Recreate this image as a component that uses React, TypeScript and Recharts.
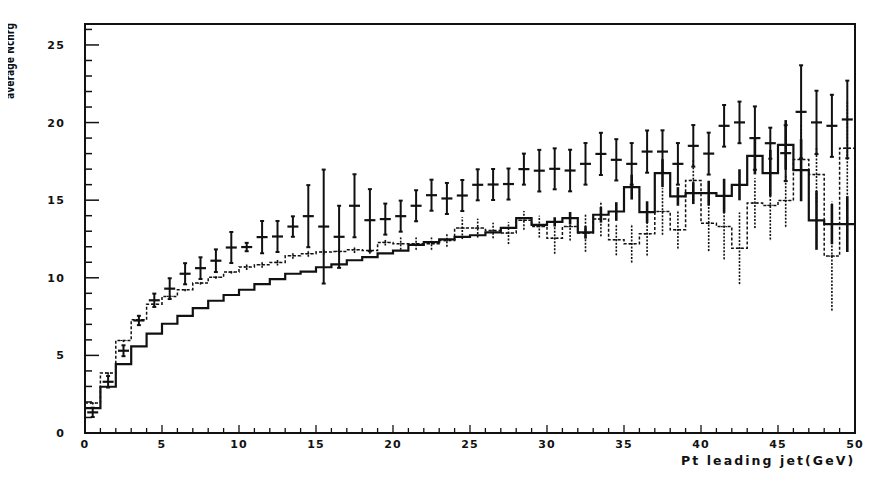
import React from "react";
import {
  ComposedChart,
  Line,
  Scatter,
  ErrorBar,
  XAxis,
  YAxis,
  ReferenceArea,
} from "recharts";

// 50 bins of 1 GeV in Pt of the leading jet
const binEdges = [
  0, 1, 2, 3, 4, 5, 6, 7, 8, 9, 10, 11, 12, 13, 14, 15, 16, 17, 18, 19, 20,
  21, 22, 23, 24, 25, 26, 27, 28, 29, 30, 31, 32, 33, 34, 35, 36, 37, 38, 39,
  40, 41, 42, 43, 44, 45, 46, 47, 48, 49, 50,
];

// measured points (crosses)
const dataMean = [
  1.33, 3.3, 5.3, 7.25, 8.55, 9.3, 10.26, 10.62, 11.1, 11.95,
  11.98, 12.62, 12.66, 13.3, 13.97, 13.3, 12.64, 14.64, 13.71, 13.78,
  13.97, 14.64, 15.32, 15.11, 15.3, 15.99, 16.01, 16.04, 17.0, 16.9,
  17.02, 16.91, 17.34, 17.98, 17.6, 17.34, 18.13, 18.13, 17.34, 18.5,
  18.0, 19.79, 20.01, 19.0, 18.67, 18.03, 20.69, 20.01, 19.79, 20.2,
];
const dataErr = [
  0.3, 0.37, 0.35, 0.3, 0.43, 0.67, 0.68, 0.7, 0.73, 1.0,
  0.27, 1.04, 1.0, 0.66, 2.0, 3.67, 2.0, 2.03, 2.0, 1.0,
  1.0, 1.0, 1.0, 1.0, 1.0, 1.0, 1.0, 1.0, 1.0, 1.34,
  1.32, 1.34, 1.34, 1.36, 1.33, 1.34, 1.36, 1.37, 1.34, 1.34,
  1.35, 1.34, 1.34, 2.04, 1.0, 1.8, 3.0, 2.04, 2.0, 2.5,
];

// solid histogram
const mcSolid = [
  1.6, 2.98, 4.44, 5.58, 6.4, 7.04, 7.55, 8.05, 8.52, 8.89,
  9.23, 9.59, 9.91, 10.26, 10.4, 10.68, 10.87, 11.13, 11.33, 11.57,
  11.75, 12.12, 12.3, 12.47, 12.64, 12.74, 12.93, 13.22, 13.84, 13.41,
  13.6, 13.84, 12.92, 14.06, 14.27, 15.84, 14.23, 16.74, 15.24, 15.45,
  15.45, 15.28, 15.99, 17.86, 16.74, 18.56, 16.93, 13.7, 13.46, 13.46,
];
const mcSolidErr = [
  0, 0, 0, 0, 0, 0, 0, 0, 0, 0,
  0, 0, 0, 0, 0, 0, 0, 0, 0, 0,
  0, 0, 0, 0, 0, 0, 0, 0, 0, 0,
  0.3, 0.4, 0.4, 0.5, 0.6, 0.8, 0.7, 0.9, 0.6, 0.7,
  0.8, 1.1, 1.0, 1.2, 1.5, 1.6, 2.0, 1.9, 1.3, 1.8,
];

// dashed histogram
const mcDashed = [
  1.93, 3.86, 5.96, 7.3, 8.3, 8.8, 9.23, 9.66, 10.04, 10.37,
  10.7, 10.84, 10.99, 11.42, 11.55, 11.66, 11.7, 11.8, 11.75, 12.28,
  12.2, 12.2, 12.2, 12.4, 13.2, 13.2, 13.04, 12.88, 13.7, 13.3,
  12.55, 13.3, 12.88, 13.78, 12.45, 12.19, 12.83, 14.27, 13.09, 16.27,
  13.52, 13.3, 11.9, 14.81, 14.66, 14.98, 17.62, 16.65, 11.4, 18.35,
];
const mcDashedErr = [
  0.1, 0.1, 0.1, 0.1, 0.1, 0.1, 0.1, 0.1, 0.1, 0.1,
  0.2, 0.2, 0.2, 0.2, 0.2, 0.2, 0.2, 0.2, 0.2, 0.2,
  0.4, 0.4, 0.4, 0.4, 0.7, 0.6, 0.5, 0.7, 0.6, 0.7,
  1.0, 0.9, 1.2, 1.1, 1.0, 1.2, 1.4, 1.5, 1.2, 1.3,
  1.8, 2.1, 2.3, 1.6, 2.2, 1.7, 2.2, 1.8, 3.5, 3.0,
];

const xTicks = binEdges;
const yTicks = [
  0, 1, 2, 3, 4, 5, 6, 7, 8, 9, 10, 11, 12, 13, 14, 15, 16, 17, 18, 19, 20,
  21, 22, 23, 24, 25, 26,
];
const Y_MAX = 26.35;

const histRows = binEdges.map((e) => ({
  x: e,
  solid: mcSolid[Math.min(e, 49)],
  dashed: mcDashed[Math.min(e, 49)],
}));

const pointRows = dataMean.map((v, i) => ({
  x: binEdges[i] + 0.5,
  y: v,
  err: dataErr[i],
  solid: mcSolid[i],
  solidErr: mcSolidErr[i],
  dashed: mcDashed[i],
  dashedErr: mcDashedErr[i],
}));

const INK = "#111";
const FONT = "'DejaVu Sans', Arial, sans-serif";

const YTick = (props: any) => {
  const { x, y, payload } = props;
  const major = payload.value % 5 === 0;
  return (
    <g>
      <line x1={x} y1={y} x2={x + (major ? 14 : 7)} y2={y} stroke={INK} strokeWidth={1.5} />
      {major && (
        <text
          x={x - 20}
          y={y}
          dy={4}
          textAnchor="end"
          fontFamily={FONT}
          fontWeight="bold"
          fontSize={11}
          letterSpacing={1.2}
          fill={INK}
        >
          {payload.value}
        </text>
      )}
    </g>
  );
};

const XTick = (props: any) => {
  const { x, y, payload } = props;
  const major = payload.value % 5 === 0;
  return (
    <g>
      <line x1={x} y1={y} x2={x} y2={y - (major ? 8 : 5)} stroke={INK} strokeWidth={1.3} />
      {major && (
        <text
          x={x}
          y={y + 15}
          textAnchor="middle"
          fontFamily={FONT}
          fontWeight="bold"
          fontSize={11}
          letterSpacing={1.2}
          fill={INK}
        >
          {payload.value}
        </text>
      )}
    </g>
  );
};

const crossShape = (props: any) => (
  <line x1={props.cx - 5.5} y1={props.cy} x2={props.cx + 5.5} y2={props.cy} stroke={INK} strokeWidth={2.2} />
);

const dashTick = (props: any) => (
  <line
    x1={props.cx - 3}
    y1={props.cy}
    x2={props.cx + 3}
    y2={props.cy}
    stroke={INK}
    strokeWidth={1.2}
    strokeDasharray="1.5 1"
  />
);

const noShape = () => <g />;

export default function App() {
  return (
    <div style={{ marginLeft: -8, marginTop: -8, width: 871, height: 474 }}>
      <ComposedChart
        width={871}
        height={474}
        margin={{ top: 24, right: 16, bottom: 11, left: 0 }}
      >
        <XAxis
          type="number"
          dataKey="x"
          domain={[0, 50]}
          ticks={xTicks}
          interval={0}
          allowDataOverflow
          axisLine={false}
          tickLine={false}
          tickSize={0}
          tickMargin={0}
          height={30}
          tick={<XTick />}
          label={{
            content: (p: any) => (
              <text
                x={p.viewBox.x + p.viewBox.width}
                y={p.viewBox.y + 32}
                textAnchor="end"
                fontFamily={FONT}
                fontWeight="bold"
                fontSize={12.5}
                letterSpacing={1.8}
                textLength={174}
                lengthAdjust="spacing"
                fill={INK}
              >
                Pt leading jet(GeV)
              </text>
            ),
          }}
        />
        <YAxis
          type="number"
          domain={[0, Y_MAX]}
          ticks={yTicks}
          interval={0}
          allowDataOverflow
          axisLine={false}
          tickLine={false}
          tickSize={0}
          tickMargin={0}
          width={85}
          tick={<YTick />}
          label={{
            content: () => (
              <text
                x={14}
                y={61}
                transform="rotate(-90 14 61)"
                textAnchor="middle"
                fontFamily="'Liberation Sans Narrow', 'DejaVu Sans', sans-serif"
                fontStretch="condensed"
                fontWeight="bold"
                fontSize={12.5}
                textLength={76}
                lengthAdjust="spacingAndGlyphs"
                fill={INK}
              >
                average Nchrg
              </text>
            ),
          }}
        />
        <ReferenceArea
          x1={0}
          x2={50}
          y1={0}
          y2={Y_MAX}
          fill="none"
          fillOpacity={0}
          stroke={INK}
          strokeWidth={2}
        />
        <Scatter data={pointRows} dataKey="dashed" shape={dashTick} isAnimationActive={false}>
          <ErrorBar
            dataKey="dashedErr"
            direction="y"
            width={0}
            stroke={INK}
            strokeWidth={1.6}
            strokeDasharray="2 1.5"
          />
        </Scatter>
        <Line
          data={histRows}
          dataKey="dashed"
          type="stepAfter"
          stroke={INK}
          strokeWidth={1.5}
          strokeDasharray="3 2"
          dot={false}
          activeDot={false}
          isAnimationActive={false}
        />
        <Line
          data={histRows}
          dataKey="solid"
          type="stepAfter"
          stroke={INK}
          strokeWidth={2.2}
          dot={false}
          activeDot={false}
          isAnimationActive={false}
        />
        <Scatter data={pointRows} dataKey="solid" shape={noShape} isAnimationActive={false}>
          <ErrorBar dataKey="solidErr" direction="y" width={0} stroke={INK} strokeWidth={2.6} />
        </Scatter>
        <Scatter data={pointRows} dataKey="y" shape={crossShape} isAnimationActive={false}>
          <ErrorBar dataKey="err" direction="y" width={2} stroke={INK} strokeWidth={2} />
        </Scatter>
      </ComposedChart>
    </div>
  );
}
